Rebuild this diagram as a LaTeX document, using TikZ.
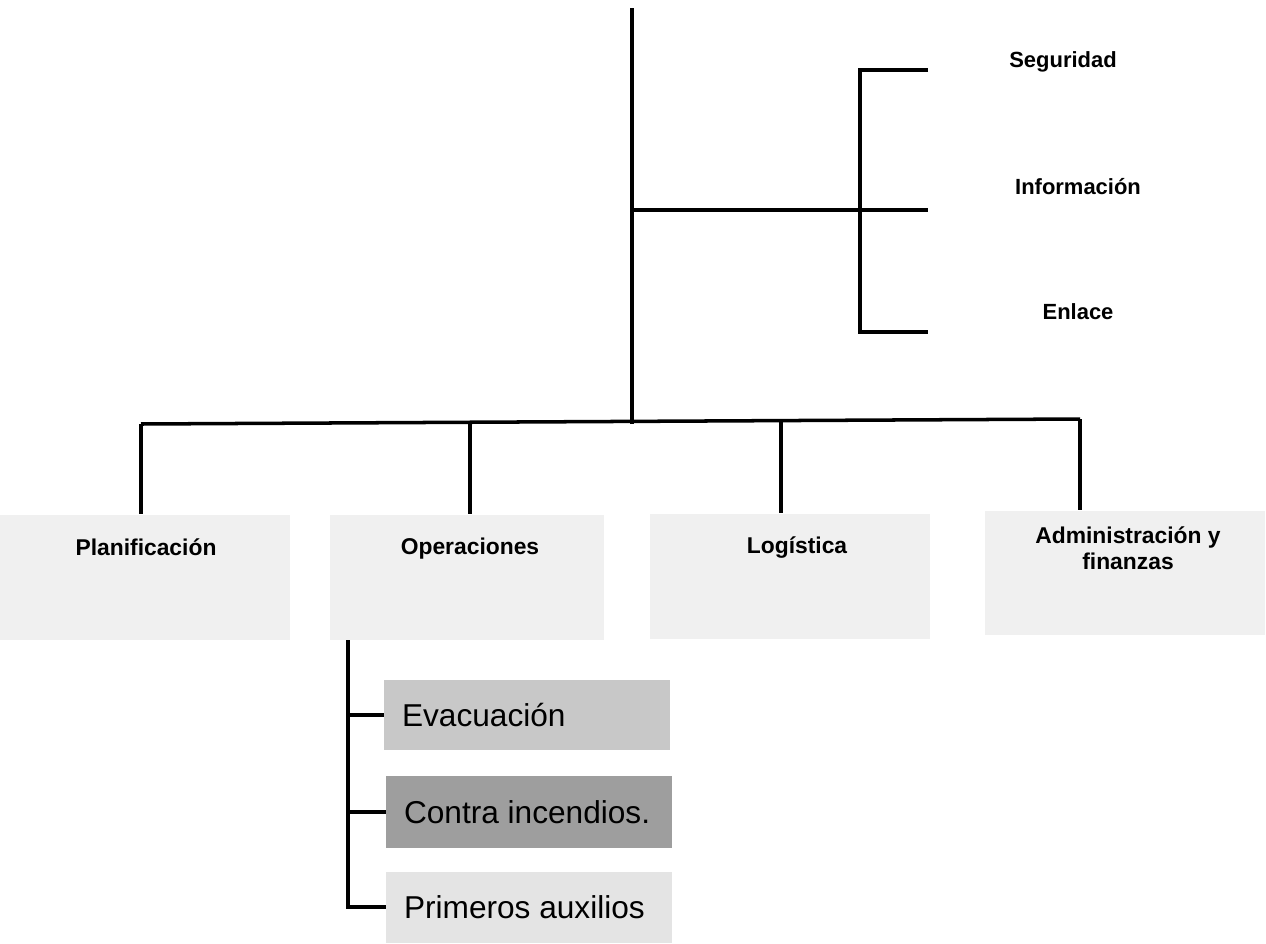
\documentclass[tikz,border=0pt]{standalone}
\usepackage{fontspec}
\setmainfont{Liberation Sans}
\usepackage{tikz}
\usetikzlibrary{positioning}
\definecolor{boxL}{RGB}{240,240,240}
\definecolor{boxE}{RGB}{200,200,200}
\definecolor{boxC}{RGB}{158,158,158}
\definecolor{boxP}{RGB}{228,228,228}
\tikzset{link/.style={line width=2pt, black},
  secbox/.style={draw=none, fill=boxL, minimum height=2.5cm},
  sectxt/.style={font=\fontsize{13}{15}\selectfont\bfseries, align=center, anchor=north, inner sep=0pt},
  stafftxt/.style={font=\fontsize{12.5}{15}\selectfont\bfseries},
  subbox/.style={draw=none, minimum width=5.72cm, minimum height=1.42cm, text width=5.0cm,
    align=flush left, font=\fontsize{18}{21}\selectfont}}

\begin{document}
\begin{tikzpicture}[x=0.02cm, y=-0.02cm]
\useasboundingbox (0,0) rectangle (1266,943);
% Top: trunk and staff bracket
\coordinate (top) at (632,8);
\coordinate (j) at (632,210);
\coordinate (k) at (860,210);
\coordinate (e1) at (928,70);
\coordinate (e2) at (928,210);
\coordinate (e3) at (928,332);
\node[stafftxt] (seg) at (1063,62) {Seguridad};
\node[stafftxt] (inf) at (1078,187) {Información};
\node[stafftxt] (enl) at (1078,312) {Enlace};
\draw[link] (top) -- (j) -- (e2);
\draw[link] (e1) -- (e1 -| k) -- (e3 -| k) -- (e3);
% Middle: sections
\coordinate (b1) at (141,424);
\coordinate (b2) at (470,423);
\coordinate (b3) at (781,421);
\coordinate (b4) at (1080,419);
\node[secbox, minimum width=5.8cm] (plan) at (145,577) {};
\node[secbox, minimum width=5.5cm] (oper) at (467,577) {};
\node[secbox, minimum width=5.6cm] (log) at (790,576) {};
\node[secbox, minimum width=5.62cm] (adm) at (1125,573) {};
\node[sectxt] (plant) at (146,538) {Planificación};
\node[sectxt] (opert) at (470,538) {Operaciones};
\node[sectxt] (logt) at (797,536) {Logística};
\node[sectxt] (admt) at (1128,526) {Administración y\\finanzas};
\draw[link] (top) -- (top |- b1);
\draw[link] (b1) -- (b4);
\foreach \b/\s in {b1/plan, b2/oper, b3/log, b4/adm}
  \draw[link] (\b) -- (\b |- \s.north);
% Bottom: units under Operaciones
\coordinate (sv) at (348,640);
\node[subbox, fill=boxE, minimum height=1.4cm] (evac) at (527,715) {Evacuación};
\node[subbox, fill=boxC, minimum height=1.44cm] (contra) at (529,812) {Contra incendios.};
\node[subbox, fill=boxP] (prim) at (529,907) {Primeros auxilios};
\draw[link] (sv) -- (sv |- prim.west) -- (prim.west);
\draw[link] (sv |- evac.west) -- (evac.west);
\draw[link] (sv |- contra.west) -- (contra.west);
\end{tikzpicture}
\end{document}
